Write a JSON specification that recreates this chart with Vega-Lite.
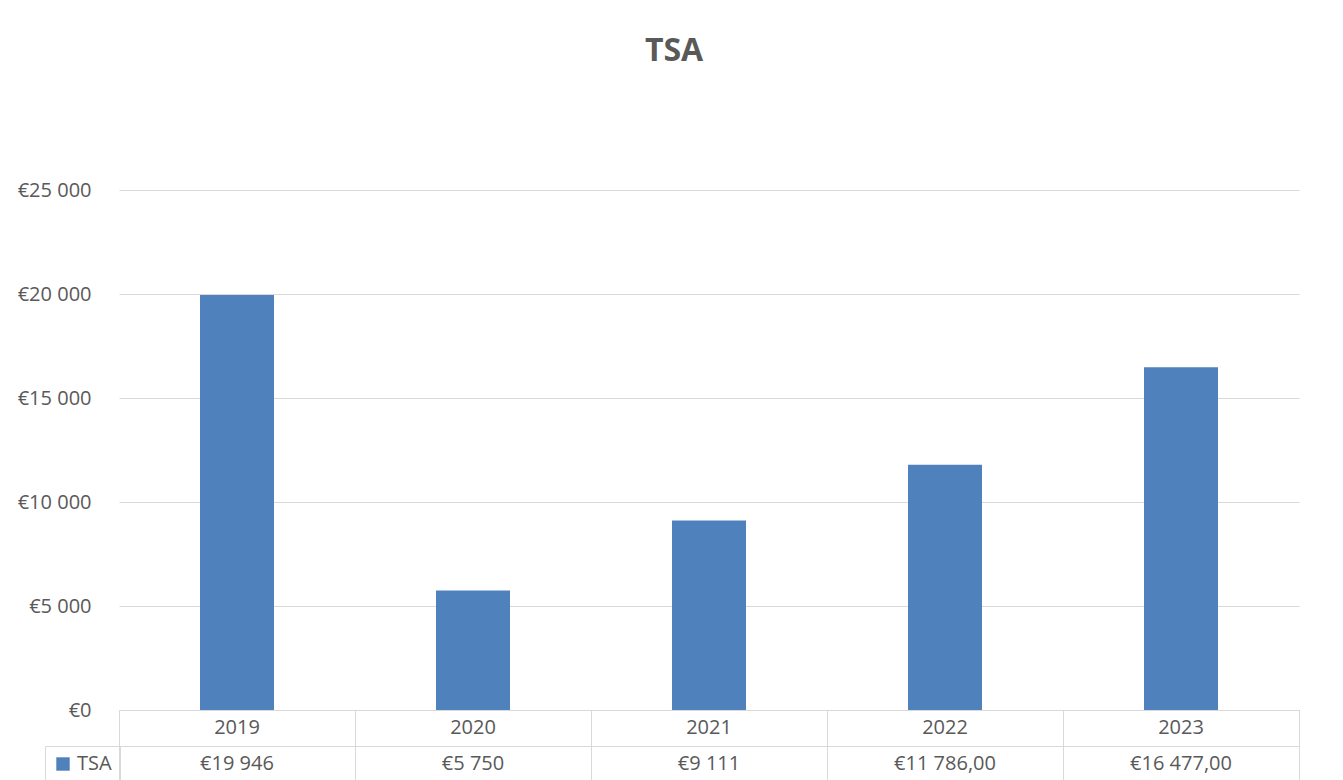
{
  "$schema": "https://vega.github.io/schema/vega-lite/v6.json",
  "padding": {"left": 17, "top": 35, "right": 45, "bottom": 0},
  "background": "white",
  "bounds": "flush",
  "title": {"text": "TSA", "font": "Open Sans", "fontSize": 32, "fontWeight": "bold", "color": "#595959", "anchor": "middle", "frame": "group", "dx": -35, "offset": 112},
  "data": {"values": [
    {"year": "2019", "value": 19946, "label": "€19 946", "series": "TSA"},
    {"year": "2020", "value": 5750, "label": "€5 750", "series": "TSA"},
    {"year": "2021", "value": 9111, "label": "€9 111", "series": "TSA"},
    {"year": "2022", "value": 11786, "label": "€11 786,00", "series": "TSA"},
    {"year": "2023", "value": 16477, "label": "€16 477,00", "series": "TSA"}
  ]},
  "config": {"font": "Open Sans", "view": {"stroke": null}},
  "spacing": 0,
  "resolve": {"scale": {"x": "independent"}},
  "vconcat": [
    {
      "width": 1180,
      "height": 520,
      "mark": {"type": "bar"},
      "encoding": {
        "x": {"field": "year", "type": "nominal", "scale": {"type": "band", "paddingInner": 0.6864, "paddingOuter": 0.3432}, "axis": null},
        "y": {"field": "value", "type": "quantitative", "scale": {"domain": [0, 25000], "nice": false},
          "axis": {"values": [0, 5000, 10000, 15000, 20000, 25000], "labelExpr": "'€' + replace(format(datum.value, ','), ',', ' ')", "grid": true, "gridColor": "#D9D9D9", "gridWidth": 1, "domain": false, "ticks": false, "labelPadding": 28, "labelFontSize": 20, "labelColor": "#595959", "labelFont": "Open Sans", "title": null}},
        "color": {"field": "series", "type": "nominal", "scale": {"range": ["#4F81BD"]},
          "legend": {"orient": "none", "legendX": -74, "legendY": 556, "title": null, "symbolType": "square", "symbolSize": 180, "symbolStrokeWidth": 0, "labelFont": "Open Sans", "labelFontSize": 20, "labelColor": "#595959", "labelOffset": 4, "strokeColor": "#D9D9D9", "padding": 8}}
      }
    },
    {
      "width": 1180,
      "height": 72,
      "view": {"stroke": "#D9D9D9"},
      "encoding": {
        "x": {"field": "year", "type": "nominal", "bandPosition": 0.5, "scale": {"type": "band", "paddingInner": 0, "paddingOuter": 0},
          "axis": {"grid": true, "tickBand": "extent", "gridColor": "#D9D9D9", "labels": false, "ticks": false, "domain": false, "title": null}}
      },
      "layer": [
        {
          "mark": {"type": "text", "fontSize": 20, "color": "#595959", "baseline": "middle", "align": "center", "font": "Open Sans"},
          "encoding": {
            "y": {"datum": "year", "type": "nominal", "scale": {"type": "band", "domain": ["year", "value"], "paddingInner": 0, "paddingOuter": 0},
              "axis": {"grid": true, "tickBand": "extent", "gridColor": "#D9D9D9", "labels": false, "ticks": false, "domain": false, "title": null}},
            "text": {"field": "year"}
          }
        },
        {
          "mark": {"type": "text", "fontSize": 20, "color": "#595959", "baseline": "middle", "align": "center", "font": "Open Sans"},
          "encoding": {
            "y": {"datum": "value", "type": "nominal"},
            "text": {"field": "label"}
          }
        }
      ]
    }
  ]
}
